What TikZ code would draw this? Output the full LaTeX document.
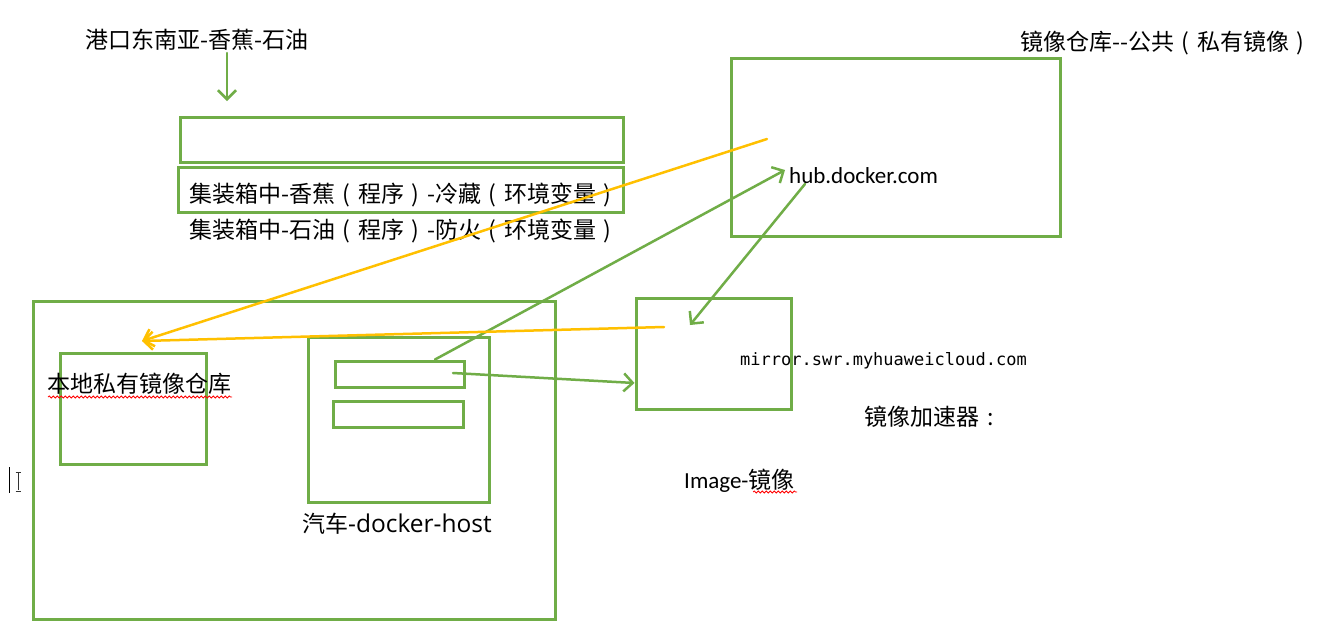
\documentclass[tikz,border=0pt]{standalone}
\usepackage{fontspec}
\setmainfont{Carlito}
\newfontfamily\cjk{Noto Sans CJK SC}
\newfontfamily\wide{Open Sans}
\newfontfamily\monof{DejaVu Sans Mono}
\newcommand\flp{\makebox[1em]{(}}
\newcommand\frp{\makebox[1em]{)}}
\newcommand\fcolon{\makebox[1em]{:}}
\usetikzlibrary{arrows.meta,decorations.pathmorphing}
\definecolor{boxgreen}{HTML}{70AD47}
\definecolor{pengold}{HTML}{FFC000}
\begin{document}
\begin{tikzpicture}[x=1pt,y=-1pt,
  gbox/.style={draw=boxgreen, line width=3pt, inner sep=0pt},
  txt/.style={anchor=west, inner sep=0pt, text=black, font=\fontsize{23}{27}\selectfont},
  cjktxt/.style={txt, font=\cjk\fontsize{23}{27}\selectfont},
  gline/.style={draw=boxgreen, line width=2.5pt, line cap=round, -{Straight Barb[length=9pt,width=18pt]}},
  yline/.style={draw=pengold, line width=2.5pt, line cap=round, -{Straight Barb[length=9pt,width=18pt]}},
  wavy/.style={draw=red, line width=0.8pt, decorate, decoration={snake, amplitude=1pt, segment length=4pt}}
]
\useasboundingbox[fill=white] (0,0) rectangle (1318,635);

% top area
\node[cjktxt] (title) at (85,40) {港口东南亚-香蕉-石油};
\coordinate (titlearrow) at (227,53);
\coordinate (box1arrow) at (227,101);
\draw[gline] (titlearrow) -- (box1arrow);

\node[gbox, minimum width=443pt, minimum height=45pt] (box1) at (401.5,139.5) {};
\node[gbox, minimum width=445pt, minimum height=45pt] (box2) at (400.5,189.5) {};
\node[cjktxt] (banana) at (189,195) {集装箱中-香蕉\flp 程序\frp-冷藏\flp 环境变量\frp};
\node[cjktxt] (oil) at (189,231) {集装箱中-石油\flp 程序\frp-防火\flp 环境变量\frp};

% hub
\node[gbox, minimum width=329pt, minimum height=178pt] (hub) at (895.5,147) {};
\node[cjktxt] (hublabel) at (1020,43) {镜像仓库--公共\flp 私有镜像\frp};
\node[txt] (hubtext) at (789,176) {hub.docker.com};

% mirror
\node[gbox, minimum width=155pt, minimum height=111pt] (mirror) at (713.5,353.5) {};
\node[txt, font=\monof\fontsize{17}{20}\selectfont] (mirrortext) at (740,361) {mirror.swr.myhuaweicloud.com};
\node[cjktxt] (accel) at (864,417) {镜像加速器\fcolon};
\node[txt] (image) at (684,481) {Image-{\cjk 镜像}};
\draw[wavy] (753,492) -- (797,492);

% local
\node[gbox, minimum width=522pt, minimum height=318pt] (outer) at (294,460) {};
\node[gbox, minimum width=146pt, minimum height=111pt] (local) at (133,408.5) {};
\node[cjktxt] (localtext) at (47,384) {本地私有镜像仓库};
\draw[wavy] (48,397) -- (232,397);

\node[gbox, minimum width=181pt, minimum height=165pt] (host) at (398.5,419.5) {};
\node[gbox, minimum width=129pt, minimum height=26pt] (inner1) at (399.5,374) {};
\node[gbox, minimum width=130pt, minimum height=26pt] (inner2) at (398,414) {};
\node[cjktxt] (hostlabel) at (302,524) {汽车{\wide\fontsize{24.5}{28}\selectfont -docker-host}};

% connectors
\coordinate (hubin) at (785,170);
\coordinate (hubout) at (805,184);
\coordinate (mirin) at (690,325);
\coordinate (inner1mid) at (453,373);
\coordinate (hubyellow) at (767,139);
\coordinate (miryellow) at (664,327);
\coordinate (localin) at (142,341);

\draw[gline] ([xshift=35.5pt]inner1.north) -- (hubin);
\draw[gline] (hubout) -- (mirin);
\draw[gline] (inner1mid) -- ([yshift=-29.5pt]mirror.west);
\draw[yline] (hubyellow) -- (localin);
\draw[yline] (miryellow) -- (localin);

% text cursor
\draw[black, line width=1pt] (9,467) -- (9,493);
\draw[black!80, line width=0.8pt] (18,473) -- (18,490) (15.5,472) -- (20.5,472) (15.5,491) -- (20.5,491);
\end{tikzpicture}
\end{document}
